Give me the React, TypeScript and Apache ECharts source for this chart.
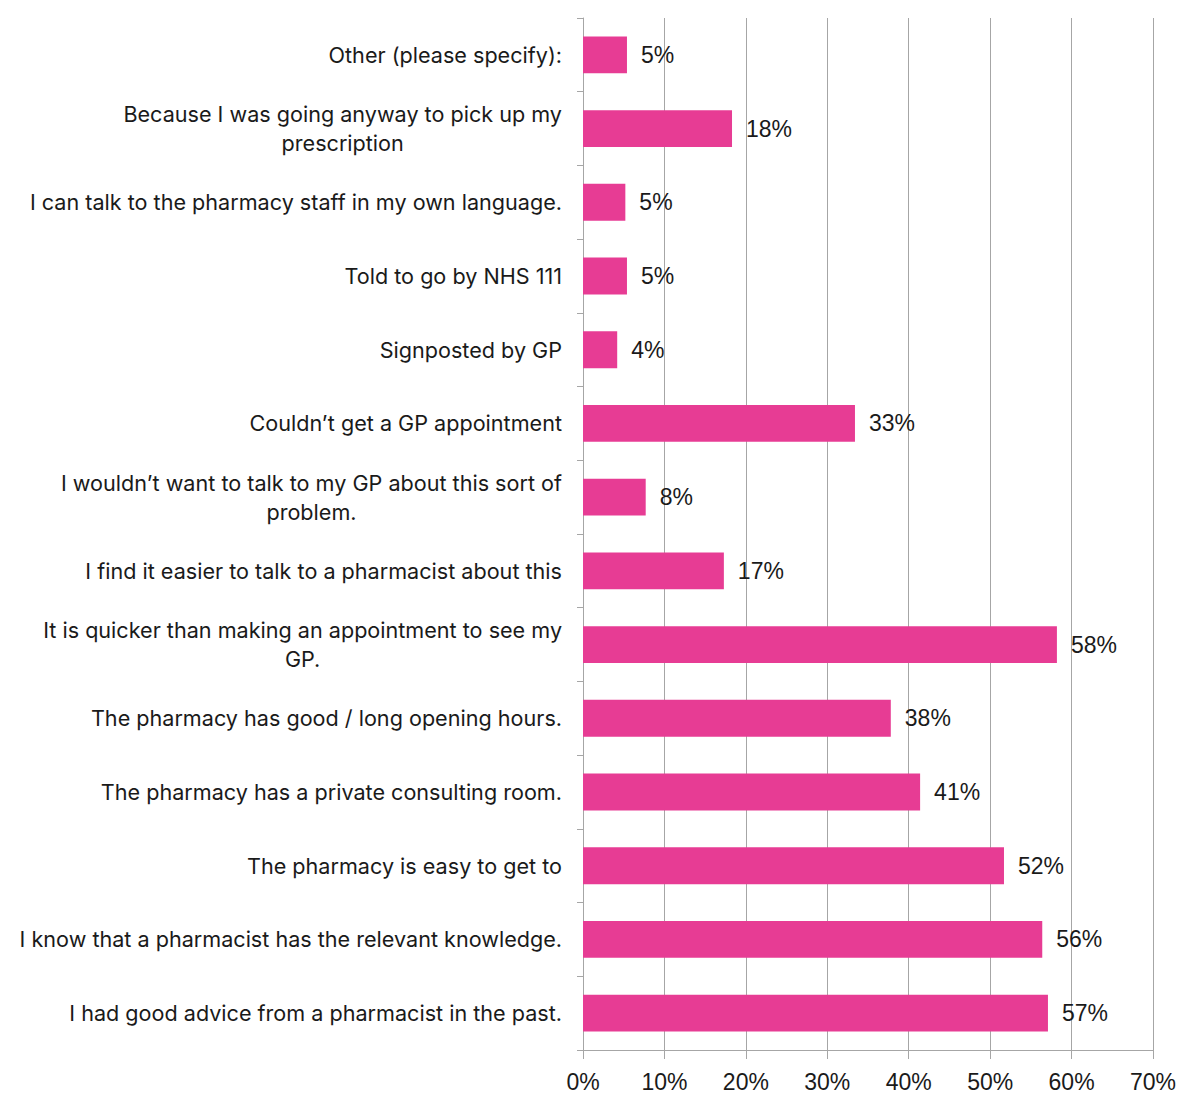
import React, { useEffect, useRef } from "react";
import * as echarts from "echarts";

const categories: string[] = [
  "Other (please specify):",
  "Because I was going anyway to pick up my\nprescription",
  "I can talk to the pharmacy staff in my own language.",
  "Told to go by NHS 111",
  "Signposted by GP",
  "Couldn\u2019t get a GP appointment",
  "I wouldn\u2019t want to talk to my GP about this sort of\nproblem.",
  "I find it easier to talk to a pharmacist about this",
  "It is quicker than making an appointment to see my\nGP.",
  "The pharmacy has good / long opening hours.",
  "The pharmacy has a private consulting room.",
  "The pharmacy is easy to get to",
  "I know that a pharmacist has the relevant knowledge.",
  "I had good advice from a pharmacist in the past.",
];

const values: number[] = [5.4, 18.3, 5.2, 5.4, 4.2, 33.4, 7.7, 17.3, 58.2, 37.8, 41.4, 51.7, 56.4, 57.1];

const xTicks: number[] = [0, 10, 20, 30, 40, 50, 60, 70];

export default function App() {
  const ref = useRef<HTMLDivElement>(null);
  useEffect(() => {
    if (!ref.current) return;
    const chart = echarts.init(ref.current, undefined, { renderer: "svg" });
    chart.setOption({
      animation: false,
      backgroundColor: "#ffffff",
      grid: { left: 583, right: 35, top: 18, bottom: 51, containLabel: false },
      xAxis: {
        type: "value",
        min: xTicks[0],
        max: xTicks[xTicks.length - 1],
        interval: 10,
        axisLine: { show: true, lineStyle: { color: "#a6a6a6", width: 1 } },
        axisTick: { show: true, length: 9, lineStyle: { color: "#a6a6a6" } },
        splitLine: { show: true, lineStyle: { color: "#a6a6a6", width: 1 } },
        axisLabel: {
          formatter: (v: number) => `${v}%`,
          fontFamily: "Liberation Sans, Arial, sans-serif",
          fontSize: 23,
          color: "#1a1a1a",
          margin: 20,
        },
      },
      yAxis: {
        type: "category",
        data: categories,
        inverse: true,
        axisLine: { show: true, lineStyle: { color: "#a6a6a6", width: 1 } },
        axisTick: { show: true, length: 6, lineStyle: { color: "#a6a6a6" } },
        splitLine: { show: false },
        axisLabel: {
          margin: 21,
          color: "#1a1a1a",
          fontFamily: "Inter, sans-serif",
          fontSize: 21.6,
          lineHeight: 29,
          align: "right",
          formatter: (v: string) =>
            v.includes("\n")
              ? v
                  .split("\n")
                  .map((l) => `{c|${l}}`)
                  .join("\n")
              : v,
          rich: {
            c: {
              align: "center",
              fontFamily: "Inter, sans-serif",
              fontSize: 21.6,
              lineHeight: 29,
              color: "#1a1a1a",
            },
          },
        },
      },
      series: [
        {
          type: "bar",
          data: values,
          barWidth: "50%",
          itemStyle: { color: "#E73C94" },
          label: {
            show: true,
            position: "right",
            distance: 14,
            formatter: (p: any) => `${Math.round(p.value)}%`,
            fontFamily: "Liberation Sans, Arial, sans-serif",
            fontSize: 23,
            color: "#1a1a1a",
          },
        },
      ],
    });
    return () => chart.dispose();
  }, []);
  return (
    <div
      ref={ref}
      style={{ position: "absolute", left: 0, top: 0, width: 1188, height: 1101 }}
    />
  );
}
